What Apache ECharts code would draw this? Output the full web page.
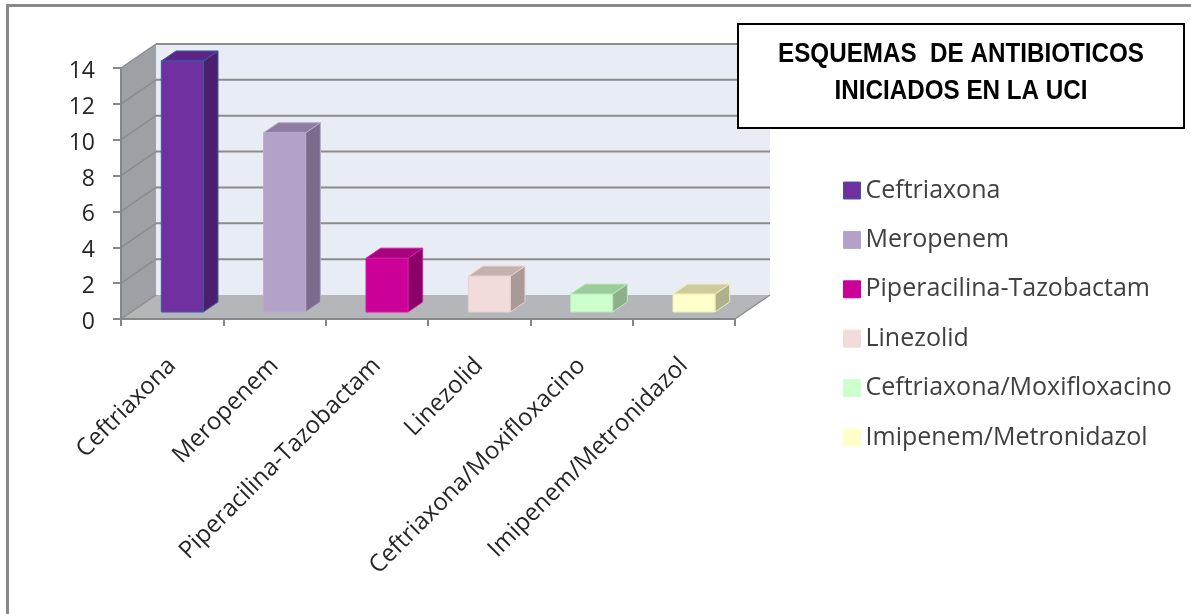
<!DOCTYPE html>
<html>
<head>
<meta charset="utf-8">
<script src="https://cdn.jsdelivr.net/npm/echarts@6/dist/echarts.min.js"></script>
<style>html,body{margin:0;padding:0;background:#fff}#c{width:1191px;height:614px}</style>
</head>
<body>
<div id="c"></div>
<script>
const categories = ['Ceftriaxona','Meropenem','Piperacilina-Tazobactam','Linezolid','Ceftriaxona/Moxifloxacino','Imipenem/Metronidazol'];
const values = [14, 10, 3, 2, 1, 1];
const yTicks = [0, 2, 4, 6, 8, 10, 12, 14];
const titleLines = ['ESQUEMAS  DE ANTIBIOTICOS', 'INICIADOS EN LA UCI'];

const frontColors = ['#7030a0','#b3a2c7','#cc0099','#f2dcdb','#ccffcc','#ffffcc'];
const sideColors  = ['#4b1f6e','#7b6c8c','#8a0068','#a99a99','#8cb08c','#b0b08c'];
const topColors   = ['#5c2588','#8e7ea2','#a8007f','#c6b0ae','#9ccc9c','#cccc9c'];
const borderColors= ['#3a5c9e','#b8a9cc','#d01fa4','#ead0ce','#b8eab8','#eeeeb8'];

const DX = 35, DY = -24;          // depth offset of the 3D box
const F0 = 0.29, F1 = 0.71;       // bar depth span
const BAR_W = 0.41;               // bar width fraction of band

const chart = echarts.init(document.getElementById('c'));
const FONT = 'Open Sans';

function wallsRender(params, api) {
  const cs = params.coordSys;
  const xl = cs.x, xr = cs.x + cs.width;
  const yb = api.coord([0, 0])[1];
  const yTop = api.coord([0, yTicks[yTicks.length - 1]])[1];
  const ch = [];
  ch.push({type: 'polygon', shape: {points: [[xl+DX, yTop+DY],[xr+DX, yTop+DY],[xr+DX, yb+DY],[xl+DX, yb+DY]]},
    style: {fill: '#e8ecf4', stroke: null}});
  ch.push({type: 'polygon', shape: {points: [[xl, yTop],[xl+DX, yTop+DY],[xl+DX, yb+DY],[xl, yb]]},
    style: {fill: '#9da1a6', stroke: null}});
  ch.push({type: 'polygon', shape: {points: [[xl, yb],[xr, yb],[xr+DX, yb+DY],[xl+DX, yb+DY]]},
    style: {fill: '#b4b6b9', stroke: null}});
  yTicks.forEach(function (v) {
    const y = api.coord([0, v])[1];
    if (v > 0) {
      ch.push({type: 'line', shape: {x1: xl+DX, y1: y+DY, x2: xr+DX, y2: y+DY}, style: {stroke: '#8c8c8c', lineWidth: 2}});
    }
    ch.push({type: 'line', shape: {x1: xl, y1: y, x2: xl+DX, y2: y+DY}, style: {stroke: '#8c8c8c', lineWidth: 1.5}});
  });
  ch.push({type: 'line', shape: {x1: xr, y1: yb, x2: xr+DX, y2: yb+DY}, style: {stroke: '#8c8c8c', lineWidth: 1.5}});
  return {type: 'group', children: ch};
}

function barRender(idx) {
  return function (params, api) {
    const cat = api.value(0), v = api.value(1);
    const base = api.coord([cat, 0]);
    const top = api.coord([cat, v]);
    const band = api.size([1, 0])[0];
    const bw = band * BAR_W;
    const x0 = base[0] - bw / 2 + F0 * DX;
    const x1 = x0 + bw;
    const yb = base[1] + F0 * DY;
    const yt = top[1] + F0 * DY;
    const ddx = (F1 - F0) * DX, ddy = (F1 - F0) * DY;
    const bc = borderColors[idx];
    return {type: 'group', children: [
      {type: 'polygon', shape: {points: [[x1, yt],[x1+ddx, yt+ddy],[x1+ddx, yb+ddy],[x1, yb]]},
        style: {fill: sideColors[idx], stroke: bc, lineWidth: 1}},
      {type: 'polygon', shape: {points: [[x0, yt],[x1, yt],[x1+ddx, yt+ddy],[x0+ddx, yt+ddy]]},
        style: {fill: topColors[idx], stroke: bc, lineWidth: 1}},
      {type: 'rect', shape: {x: x0, y: yt, width: bw, height: yb - yt},
        style: {fill: frontColors[idx], stroke: bc, lineWidth: 1}}
    ]};
  };
}

const series = [{
  type: 'custom', name: '__walls', z: 0, silent: true,
  renderItem: wallsRender, data: [[0, 0]], encode: {x: 0, y: 1}
}];
categories.forEach(function (c, i) {
  series.push({
    type: 'custom', name: c, z: 3,
    itemStyle: {color: frontColors[i]},
    renderItem: barRender(i),
    data: [[i, values[i]]], encode: {x: 0, y: 1}
  });
});

const titleFont = {fontFamily: 'Liberation Sans', fontWeight: 'bold', fontSize: 28, fill: '#000', align: 'center', verticalAlign: 'middle'};

chart.setOption({
  animation: false,
  backgroundColor: '#fff',
  graphic: [
    {type: 'rect', shape: {x: 7.5, y: 5.5, width: 1200, height: 700}, style: {fill: null, stroke: '#8a8a8a', lineWidth: 3}, z: 100, silent: true},
    {type: 'rect', shape: {x: 738, y: 24, width: 446, height: 104}, style: {fill: '#fff', stroke: '#000', lineWidth: 2}, z: 50, silent: true},
    {type: 'text', x: 961, y: 54, scaleX: 0.865, z: 51, style: Object.assign({text: titleLines[0]}, titleFont)},
    {type: 'text', x: 961, y: 91, scaleX: 0.865, z: 51, style: Object.assign({text: titleLines[1]}, titleFont)}
  ],
  legend: {
    orient: 'vertical', left: 838, top: 173,
    data: categories.map(function (c, i) {
      return {name: c, itemStyle: {color: frontColors[i], borderColor: i === 0 ? '#3a5c9e' : frontColors[i], borderWidth: 1}};
    }),
    icon: 'rect', itemWidth: 17, itemHeight: 17, itemGap: 24.4,
    textStyle: {fontFamily: FONT, fontSize: 25, color: '#404040', lineHeight: 25}
  },
  grid: {left: 121, right: 456, top: 68, bottom: 295},
  xAxis: {
    type: 'category', data: categories, z: 5,
    axisLine: {lineStyle: {color: '#878787', width: 2}},
    axisTick: {show: true, length: 7, lineStyle: {color: '#878787', width: 2}},
    axisLabel: {rotate: 45, interval: 0, margin: 43, fontFamily: FONT, fontSize: 24, color: '#262626'},
    splitLine: {show: false}
  },
  yAxis: {
    type: 'value', min: 0, max: 14, interval: 2, z: 5,
    axisLine: {show: true, lineStyle: {color: '#878787', width: 2}},
    axisTick: {show: true, length: 8, lineStyle: {color: '#878787', width: 2}},
    axisLabel: {margin: 26, fontFamily: FONT, fontSize: 23, color: '#262626', verticalAlign: 'top', lineHeight: 7},
    splitLine: {show: false}
  },
  series: series
});
</script>
</body>
</html>
